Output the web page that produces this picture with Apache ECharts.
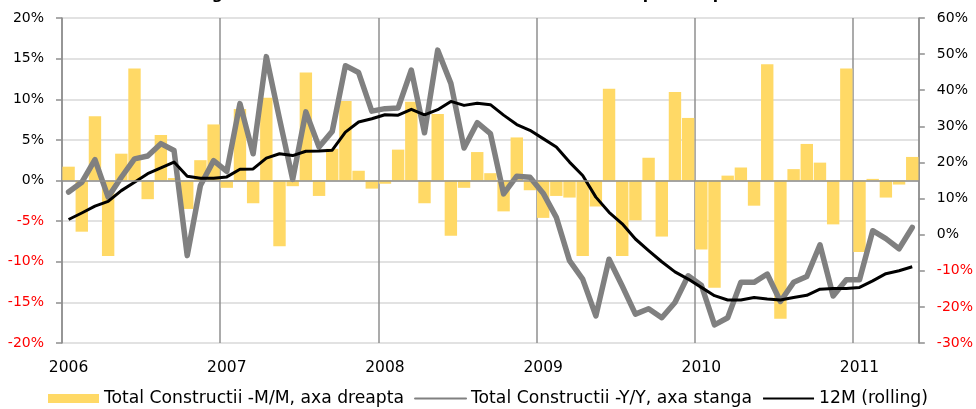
<!DOCTYPE html>
<html><head><meta charset="utf-8">
<script src="https://cdn.jsdelivr.net/npm/echarts@6/dist/echarts.min.js"></script>
<style>html,body{margin:0;padding:0;background:#fff}#c{width:976px;height:409px}</style>
</head><body><div id="c"></div>
<script>
const categories = [
 '2006-01','2006-02','2006-03','2006-04','2006-05','2006-06','2006-07','2006-08','2006-09','2006-10','2006-11','2006-12',
 '2007-01','2007-02','2007-03','2007-04','2007-05','2007-06','2007-07','2007-08','2007-09','2007-10','2007-11','2007-12',
 '2008-01','2008-02','2008-03','2008-04','2008-05','2008-06','2008-07','2008-08','2008-09','2008-10','2008-11','2008-12',
 '2009-01','2009-02','2009-03','2009-04','2009-05','2009-06','2009-07','2009-08','2009-09','2009-10','2009-11','2009-12',
 '2010-01','2010-02','2010-03','2010-04','2010-05','2010-06','2010-07','2010-08','2010-09','2010-10','2010-11','2010-12',
 '2011-01','2011-02','2011-03','2011-04','2011-05'
];
const yearTicks = ['2006','2007','2008','2009','2010','2011'];
const leftTicks = [-20,-15,-10,-5,0,5,10,15,20];
const rightTicks = [-30,-20,-10,0,10,20,30,40,50,60];

// Total Constructii -M/M (bars)
const mm = [
 1.7,-6.3,7.9,-9.3,3.3,13.8,-2.3,5.6,0.3,-3.5,2.5,6.9,
 -0.9,8.8,-2.8,10.2,-8.1,-0.7,13.3,-1.9,3.9,9.8,1.2,-1.0,
 -0.4,3.8,9.7,-2.8,8.2,-6.8,-0.9,3.5,0.9,-3.8,5.3,-1.2,
 -4.6,-1.9,-2.1,-9.3,-3.2,11.3,-9.3,-4.9,2.8,-6.9,10.9,7.7,
 -8.5,-13.2,0.6,1.6,-3.1,14.3,-17.0,1.4,4.5,2.2,-5.4,13.8,
 -8.8,0.2,-2.1,-0.5,2.9
];
// Total Constructii -Y/Y (grey line)
const yy = [
 11.8,14.5,20.8,10.4,15.9,21.0,21.8,25.2,23.3,-5.8,13.6,20.5,
 17.5,36.3,22.4,49.3,32.1,15.3,34.0,24.3,28.6,46.8,44.9,34.2,
 34.9,35.1,45.6,28.2,51.1,41.9,24.0,31.0,28.0,11.3,16.2,15.9,
 11.5,4.8,-7.2,-12.3,-22.5,-6.8,-14.2,-22.0,-20.5,-23.0,-18.8,-11.4,
 -14.0,-25.0,-23.0,-13.2,-13.2,-10.9,-18.5,-13.2,-11.6,-2.8,-17.0,-12.5,
 -12.5,1.1,-1.1,-3.9,2.0
];
// 12M (rolling)
const roll = [
 4.2,6.0,7.9,9.2,12.2,14.5,16.9,18.5,20.1,16.2,15.6,15.6,
 16.0,18.1,18.2,21.2,22.4,21.9,23.1,23.2,23.4,28.4,31.2,32.1,
 33.2,33.1,34.7,33.2,34.6,36.9,35.8,36.4,36.0,33.1,30.5,28.9,
 26.6,24.3,20.1,16.4,10.4,6.2,3.0,-1.2,-4.4,-7.5,-10.3,-12.3,
 -14.6,-16.9,-18.1,-18.1,-17.4,-17.8,-18.1,-17.4,-16.8,-15.1,-14.9,-14.9,
 -14.6,-12.8,-10.8,-10.0,-8.9
];

const titleText = 'Fig.3: Evolutiile lunare si anuale din Ianuarie 2006 pana in prezent';
const nameMM = 'Total Constructii -M/M, axa dreapta';
const nameYY = 'Total Constructii -Y/Y, axa stanga';
const nameRoll = '12M (rolling)';

const FONT = 'DejaVu Sans';
const axisGrey = '#8f8f8f';
const noSymbol = { color: 'rgba(0,0,0,0)', borderWidth: 0 };

const chart = echarts.init(document.getElementById('c'), null, {renderer:'canvas'});
chart.setOption({
  animation: false,
  backgroundColor: '#fff',
  graphic: [{
    type: 'text', left: 'center', top: -13,
    style: { text: titleText, font: 'bold 15.5px "' + FONT + '"', fill: '#000' }
  }],
  grid: { left: 62, right: 57, top: 18, bottom: 66, containLabel: false },
  legend: {
    left: 48, top: 390, padding: 0, itemWidth: 51, itemHeight: 9, itemGap: 10,
    textStyle: { fontFamily: FONT, fontSize: 17.2, color: '#000' },
    data: [
      { name: nameMM, icon: 'rect' },
      { name: nameYY, itemStyle: noSymbol },
      { name: nameRoll, itemStyle: noSymbol }
    ]
  },
  xAxis: {
    type: 'category', data: categories, boundaryGap: true,
    axisLine: { show: false },
    axisTick: { show: false },
    axisLabel: {
      interval: (i) => i % 12 === 0,
      formatter: (v, i) => yearTicks[Math.floor(i / 12)],
      fontFamily: FONT, fontSize: 15.5, color: '#000', margin: 17
    },
    splitLine: { show: true, interval: (i) => i % 12 === 0, lineStyle: { color: axisGrey, width: 1.5 } }
  },
  yAxis: [{
    type: 'value', min: leftTicks[0], max: leftTicks[leftTicks.length - 1], interval: 5,
    axisLine: { show: true, lineStyle: { color: axisGrey, width: 1.5 } },
    axisTick: { show: true, length: 6, lineStyle: { color: axisGrey, width: 1.5 } },
    axisLabel: {
      formatter: '{value}%', margin: 18, fontFamily: FONT, fontSize: 14,
      color: (v) => (Number(v) < 0 ? '#ff0000' : '#000')
    },
    splitLine: { show: true, lineStyle: { color: '#d9d9d9', width: 1.5 } }
  }, {
    type: 'value', position: 'right', min: rightTicks[0], max: rightTicks[rightTicks.length - 1], interval: 10,
    axisLine: { show: true, lineStyle: { color: axisGrey, width: 1.5 } },
    axisTick: { show: true, length: 6, lineStyle: { color: axisGrey, width: 1.5 } },
    axisLabel: {
      formatter: '{value}%', margin: 18, fontFamily: FONT, fontSize: 14,
      color: (v) => (Number(v) < 0 ? '#ff0000' : '#000')
    },
    splitLine: { show: false }
  }],
  series: [{
    name: nameMM, type: 'bar', yAxisIndex: 0, data: mm,
    barCategoryGap: '6%',
    itemStyle: { color: '#FFD966' },
    markLine: {
      silent: true, symbol: 'none', label: { show: false },
      lineStyle: { color: axisGrey, width: 1.5, type: 'solid' },
      data: [{ yAxis: 0 }]
    }
  }, {
    name: nameYY, type: 'line', yAxisIndex: 1, data: yy,
    symbol: 'none', color: '#808080',
    lineStyle: { color: '#808080', width: 5.5, join: 'round', cap: 'round' }
  }, {
    name: nameRoll, type: 'line', yAxisIndex: 1, data: roll,
    symbol: 'none', color: '#000',
    lineStyle: { color: '#000', width: 3, join: 'round' }
  }]
});
</script></body></html>
